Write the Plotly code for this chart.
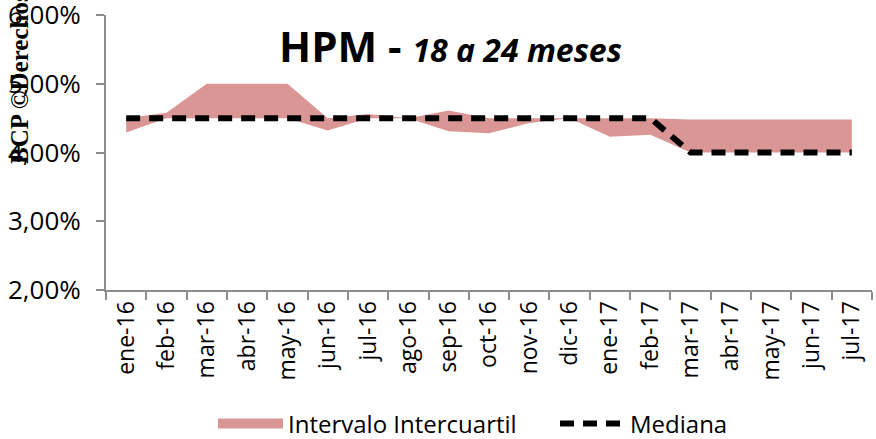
import plotly.graph_objects as go

categories = ["ene-16", "feb-16", "mar-16", "abr-16", "may-16", "jun-16", "jul-16",
              "ago-16", "sep-16", "oct-16", "nov-16", "dic-16", "ene-17", "feb-17",
              "mar-17", "abr-17", "may-17", "jun-17", "jul-17"]
q_low = [4.29, 4.50, 4.50, 4.50, 4.50, 4.32, 4.50, 4.50, 4.31, 4.28, 4.43, 4.50,
         4.23, 4.26, 4.00, 4.00, 4.00, 4.00, 4.00]
q_high = [4.50, 4.58, 5.00, 5.00, 5.00, 4.50, 4.56, 4.50, 4.61, 4.50, 4.50, 4.50,
          4.50, 4.50, 4.48, 4.48, 4.48, 4.48, 4.48]
mediana = [4.50, 4.50, 4.50, 4.50, 4.50, 4.50, 4.50, 4.50, 4.50, 4.50, 4.50, 4.50,
           4.50, 4.50, 4.00, 4.00, 4.00, 4.00, 4.00]
y_ticks = [2, 3, 4, 5, 6]
y_ticktext = ["2,00%", "3,00%", "4,00%", "5,00%", "6,00%"]

FONT = "Open Sans"
BAND = "#D99694"

fig = go.Figure()
fig.add_trace(go.Scatter(x=categories, y=q_low, mode="lines", line=dict(width=0, color=BAND),
                         showlegend=False, hoverinfo="skip"))
fig.add_trace(go.Scatter(x=categories, y=q_high, mode="lines", line=dict(width=0, color=BAND),
                         fill="tonexty", fillcolor=BAND, name="Intervalo Intercuartil",
                         showlegend=False))
# legend-only entry for the band (thick swatch like the original)
fig.add_trace(go.Scatter(x=[None], y=[None], mode="lines", line=dict(width=14, color=BAND),
                         name="Intervalo Intercuartil"))
fig.add_trace(go.Scatter(x=categories, y=mediana, mode="lines",
                         line=dict(color="black", width=6, dash="14px,9px"), name="Mediana"))

W, H = 876, 439
AX_L, AX_R, AX_T, AX_B = 106, 872, 15, 290   # plot area in pixels
L, R, T, B = AX_L, W - AX_R, AX_T, H - AX_B
pw, ph = W - L - R, H - T - B

def px_x(x):
    return (x - L) / pw

def px_y(y):
    return (H - B - y) / ph

fig.update_layout(
    width=W, height=H,
    margin=dict(l=L, r=R, t=T, b=B, autoexpand=False),
    paper_bgcolor="white", plot_bgcolor="white",
    font=dict(family=FONT, color="black"),
    showlegend=True,
    legend=dict(orientation="h", x=px_x(213), xanchor="left", y=px_y(424), yanchor="middle",
                font=dict(size=24, family=FONT), itemwidth=65, traceorder="normal",
                entrywidth=262, entrywidthmode="pixels"),
    xaxis=dict(type="category", showgrid=False, showline=True, linecolor="#8c8c8c", linewidth=2,
               ticks="outside", tickson="boundaries", ticklen=8, tickcolor="#8c8c8c", tickwidth=2,
               tickangle=-90, tickfont=dict(size=23, family=FONT), range=[-0.5, 18.5],
               automargin=False, ticklabeloverflow="allow"),
    yaxis=dict(range=[2, 6], tickvals=y_ticks, ticktext=y_ticktext, showgrid=False, zeroline=False,
               showline=True, linecolor="#8c8c8c", linewidth=2, ticks="outside", ticklen=8,
               tickcolor="#8c8c8c", tickwidth=2, tickfont=dict(size=26, family=FONT),
               ticklabelstandoff=10, automargin=False, ticklabeloverflow="allow"),
    annotations=[
        dict(text="<b>HPM - </b><b><i><span style='font-size:32px'>18 a 24 meses</span></i></b>",
             xref="paper", yref="paper", x=px_x(450), y=px_y(46), xanchor="center", yanchor="middle",
             showarrow=False, font=dict(size=42, family=FONT, color="black")),
        dict(text="<b>BCP ©Derechos Reservados</b>", textangle=-90,
             xref="paper", yref="paper", x=px_x(19), y=px_y(166), xanchor="center", yanchor="bottom",
             showarrow=False, font=dict(size=25, family="Liberation Serif", color="black")),
    ],
)

fig.write_html("out.html", config={"displayModeBar": False},
               post_script="document.body.style.margin='0';document.body.style.overflow='hidden';")
